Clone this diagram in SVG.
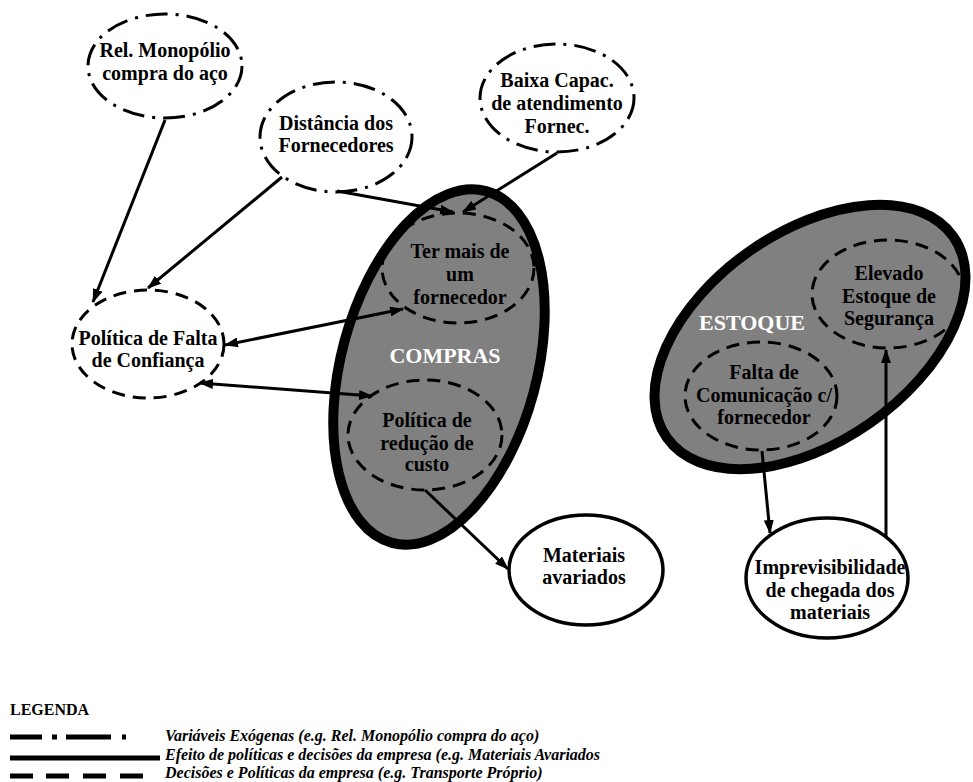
<svg xmlns="http://www.w3.org/2000/svg" width="973" height="782" viewBox="0 0 973 782">
<defs>
<marker id="ah" viewBox="0 0 14 10" refX="13" refY="5" markerWidth="14" markerHeight="10" markerUnits="userSpaceOnUse" orient="auto-start-reverse"><path d="M0,0 L14,5 L0,10 z" fill="#000"/></marker>
</defs>
<style>
.t{font-family:"Liberation Serif","Times New Roman",serif;font-weight:bold;font-size:20px;text-anchor:middle;fill:#000}
.w{fill:#fff;font-size:22px}
.exo{fill:#fff;stroke:#000;stroke-width:3;stroke-dasharray:22 8 3 8}
.pol{fill:none;stroke:#000;stroke-width:3;stroke-dasharray:13 8}
.polw{fill:#fff;stroke:#000;stroke-width:3;stroke-dasharray:13 8}
.eff{fill:#fff;stroke:#000;stroke-width:3.5}
.area{fill:#808080;stroke:#000;stroke-width:10}
.c{stroke:#000;stroke-width:3;fill:none;marker-end:url(#ah)}
.d{marker-start:url(#ah)}
.leg{font-family:"Liberation Serif","Times New Roman",serif;font-weight:bold;font-style:italic;font-size:16px}
.lh{font-family:"Liberation Serif","Times New Roman",serif;font-weight:bold;font-size:16px}
.ll{stroke:#000;stroke-width:5;fill:none}
</style>
<rect width="973" height="782" fill="#fff"/>

<g id="compras">
<ellipse class="area" cx="439" cy="367" rx="98" ry="182" transform="rotate(15 439 367)"/>
<text class="t w" x="445" y="363">COMPRAS</text>
</g>
<g id="estoque">
<ellipse class="area" cx="810" cy="337" rx="175" ry="105" transform="rotate(-35 810 337)"/>
<text class="t w" x="752" y="330">ESTOQUE</text>
</g>

<g id="n-rel">
<ellipse class="exo" cx="165" cy="66" rx="77" ry="52"/>
<text class="t" x="165" y="57">Rel. Monopólio</text>
<text class="t" x="165" y="80">compra do aço</text>
</g>
<g id="n-dist">
<ellipse class="exo" cx="336" cy="137" rx="76" ry="55"/>
<text class="t" x="336" y="130">Distância dos</text>
<text class="t" x="336" y="152">Fornecedores</text>
</g>
<g id="n-baixa">
<ellipse class="exo" cx="557" cy="98" rx="77" ry="54"/>
<text class="t" x="557" y="87">Baixa Capac.</text>
<text class="t" x="557" y="110">de atendimento</text>
<text class="t" x="557" y="133">Fornec.</text>
</g>
<g id="n-falta-confianca">
<ellipse class="polw" cx="148" cy="344" rx="76" ry="54"/>
<text class="t" x="148" y="345">Política de Falta</text>
<text class="t" x="148" y="367">de Confiança</text>
</g>
<g id="n-ter-mais">
<ellipse class="pol" cx="458" cy="268" rx="76" ry="55"/>
<text class="t" x="460" y="258">Ter mais de</text>
<text class="t" x="460" y="281">um</text>
<text class="t" x="460" y="304">fornecedor</text>
</g>
<g id="n-reducao">
<ellipse class="pol" cx="425" cy="435" rx="77" ry="55"/>
<text class="t" x="427" y="427">Política de</text>
<text class="t" x="427" y="450">redução de</text>
<text class="t" x="427" y="471">custo</text>
</g>
<g id="n-elevado">
<ellipse class="pol" cx="888" cy="294" rx="76" ry="54"/>
<text class="t" x="889" y="280">Elevado</text>
<text class="t" x="889" y="303">Estoque de</text>
<text class="t" x="889" y="325">Segurança</text>
</g>
<g id="n-comunicacao">
<ellipse class="pol" cx="761" cy="396" rx="76" ry="54"/>
<text class="t" x="764" y="379">Falta de</text>
<text class="t" x="764" y="402">Comunicação c/</text>
<text class="t" x="764" y="424">fornecedor</text>
</g>
<g id="n-materiais">
<ellipse class="eff" cx="586" cy="570" rx="77" ry="55"/>
<text class="t" x="584" y="562">Materiais</text>
<text class="t" x="584" y="584">avariados</text>
</g>
<g id="n-imprev">
<ellipse class="eff" cx="827" cy="578" rx="81" ry="60"/>
<text class="t" x="830" y="574">Imprevisibilidade</text>
<text class="t" x="830" y="597">de chegada dos</text>
<text class="t" x="830" y="619">materiais</text>
</g>

<g id="connectors">
<line class="c" x1="165" y1="120" x2="93" y2="302"/>
<line class="c" x1="282" y1="177" x2="148" y2="288"/>
<line class="c" x1="337" y1="191" x2="453" y2="212"/>
<line class="c" x1="557" y1="153" x2="463" y2="212"/>
<line class="c d" x1="225" y1="345" x2="403" y2="309"/>
<line class="c d" x1="200" y1="383" x2="372" y2="396"/>
<line class="c" x1="425" y1="490" x2="508" y2="569"/>
<line class="c" x1="762" y1="451" x2="770" y2="533"/>
<line class="c" x1="886" y1="538" x2="886" y2="350"/>
</g>

<g id="legend">
<text class="lh" x="10" y="715">LEGENDA</text>
<path class="ll" d="M10,737 H42 M52,737 H57 M66,737 H111 M122,737 H126"/>
<text class="leg" x="165" y="741">Variáveis Exógenas (e.g. Rel. Monopólio compra do aço)</text>
<path class="ll" d="M10,758 H160"/>
<text class="leg" x="165" y="760">Efeito de políticas e decisões da empresa (e.g. Materiais Avariados</text>
<path class="ll" d="M10,776 H33 M46,776 H69 M83,776 H106 M120,776 H143"/>
<text class="leg" x="165" y="778">Decisões e Políticas da empresa (e.g. Transporte Próprio)</text>
</g>
</svg>
